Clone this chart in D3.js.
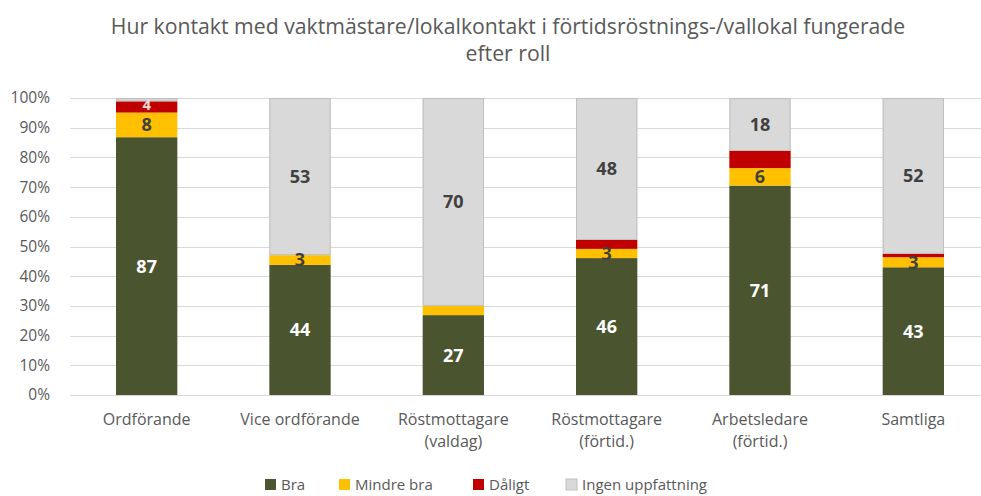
<!DOCTYPE html>
<html>
<script src='https://d3js.org/d3.v7.min.js'></script>
<style>
	body {margin: 0; background: white; }
	text {font-family: "Open Sans", sans-serif; }
</style>
<body>
<svg id="chart" width="981" height="496"></svg>
<script>
const categories = [["Ordförande"], ["Vice ordförande"], ["Röstmottagare", "(valdag)"],
	["Röstmottagare", "(förtid.)"], ["Arbetsledare", "(förtid.)"], ["Samtliga"]];
const seriesNames = ["Bra", "Mindre bra", "Dåligt", "Ingen uppfattning"];
const bra = [86.8, 43.8, 26.9, 46.1, 70.5, 43.0];
const mindreBra = [8.3, 3.3, 3.1, 3.1, 5.9, 3.4];
const daligt = [3.8, 0, 0, 3.0, 5.8, 1.2];
const ingen = [1.1, 52.9, 70.0, 47.8, 17.8, 52.4];
// which segments carry a value label
const showLabel = [
	[true, true, true, true, true, true],
	[true, true, false, true, true, true],
	[true, false, false, false, false, false],
	[false, true, true, true, true, true]
];
const yTicks = [0, 10, 20, 30, 40, 50, 60, 70, 80, 90, 100];
const titleLines = ["Hur kontakt med vaktmästare/lokalkontakt i förtidsröstnings-/vallokal fungerade", "efter roll"];

const colors = ["#4a5530", "#ffc000", "#c00000", "#d9d9d9"];
const labelColors = ["#ffffff", "#404040", "#f2dcdb", "#404040"];

const svg = d3.select("#chart");
const margin = {top: 98, left: 70, right: 990, bottom: 395};

const values = [bra, mindreBra, daligt, ingen];
const rows = categories.map((c, i) => {
	const r = {key: i};
	seriesNames.forEach((s, j) => r[s] = values[j][i]);
	return r;
});
const stacked = d3.stack().keys(seriesNames)(rows);

const x = d3.scaleBand()
	.domain(d3.range(categories.length))
	.range([margin.left, margin.right])
	.paddingInner(0.6)
	.paddingOuter(0.3);

const y = d3.scaleLinear()
	.domain([0, 100])
	.range([margin.bottom, margin.top]);

// title
const title = svg.append("g");
titleLines.forEach((t, i) => {
	title.append("text")
		.attr("x", 508)
		.attr("y", 34 + i * 27)
		.attr("text-anchor", "middle")
		.attr("fill", "#595959")
		.attr("font-size", "20px")
		.text(t);
});
const tw = title.select("text").node().getComputedTextLength();
title.selectAll("text").attr("font-size", (20 * 795 / tw) + "px");

// grid
svg.append("g")
	.selectAll("line")
	.data(yTicks)
	.join("line")
	.attr("x1", margin.left)
	.attr("x2", margin.right)
	.attr("y1", d => Math.round(y(d)) + 0.5)
	.attr("y2", d => Math.round(y(d)) + 0.5)
	.attr("stroke", "#d9d9d9")
	.attr("stroke-width", 1);

const yAxis = svg.append("g")
	.attr("transform", `translate(${margin.left - 17},0)`)
	.call(d3.axisLeft(y).tickValues(yTicks).tickFormat(d => d + "%").tickSize(0));
yAxis.select(".domain").remove();
yAxis.selectAll("text")
	.attr("fill", "#595959")
	.attr("font-size", "15.5px")
	.attr("font-family", "Open Sans, sans-serif");

// bars
const layers = svg.append("g")
	.selectAll("g")
	.data(stacked)
	.join("g")
	.attr("fill", (d, i) => colors[i]);

layers.selectAll("rect")
	.data(d => d)
	.join("rect")
	.attr("x", (d, i) => x(i))
	.attr("width", x.bandwidth())
	.attr("y", d => y(d[1]))
	.attr("height", d => y(d[0]) - y(d[1]));

// outline of the light grey segments
svg.append("g")
	.selectAll("rect")
	.data(stacked[3])
	.join("rect")
	.attr("x", (d, i) => x(i) + 0.5)
	.attr("width", x.bandwidth() - 1)
	.attr("y", d => y(d[1]) + 0.5)
	.attr("height", d => Math.max(0, y(d[0]) - y(d[1]) - 1))
	.attr("fill", "none")
	.attr("stroke", "#bfbfbf")
	.attr("stroke-width", 1);

// value labels
stacked.forEach((layer, j) => {
	svg.append("g")
		.selectAll("text")
		.data(layer.filter((d, i) => showLabel[j][i]).map(d => ({d, i: layer.indexOf(d)})))
		.join("text")
		.attr("x", o => x(o.i) + x.bandwidth() / 2)
		.attr("y", o => (y(o.d[0]) + y(o.d[1])) / 2)
		.attr("dy", j === 2 ? "0.2em" : "0.36em")
		.attr("text-anchor", "middle")
		.attr("font-size", j === 2 ? "15px" : "18px")
		.attr("font-weight", "bold")
		.attr("fill", labelColors[j])
		.text(o => Math.round(o.d[1] - o.d[0]));
});

// x labels
const xl = svg.append("g")
	.selectAll("text")
	.data(categories)
	.join("text")
	.attr("x", (d, i) => x(i) + x.bandwidth() / 2)
	.attr("y", 425)
	.attr("text-anchor", "middle")
	.attr("fill", "#595959")
	.attr("font-size", "16px");
xl.selectAll("tspan")
	.data(d => d)
	.join("tspan")
	.attr("x", function() { return this.parentNode.getAttribute("x"); })
	.attr("dy", (d, i) => i ? 22 : 0)
	.text(d => d);

// legend
const legendX = [265, 339, 473, 566];
const legend = svg.append("g")
	.selectAll("g")
	.data(seriesNames)
	.join("g")
	.attr("transform", (d, i) => `translate(${legendX[i]},479)`);
legend.append("rect")
	.attr("width", 11)
	.attr("height", 11)
	.attr("fill", (d, i) => colors[i])
	.attr("stroke", (d, i) => i === 3 ? "#bfbfbf" : "none");
legend.append("text")
	.attr("x", 16)
	.attr("y", 6)
	.attr("dy", "0.34em")
	.attr("fill", "#595959")
	.attr("font-size", "15px")
	.text(d => d);
</script>
</body>
</html>
